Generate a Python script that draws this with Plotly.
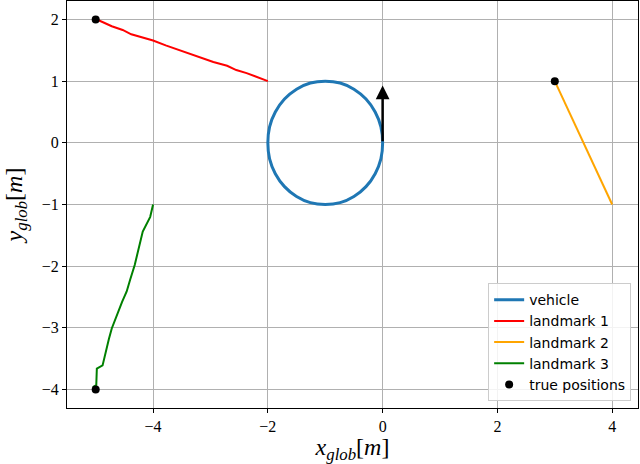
"""Vehicle / landmark trajectories in the global frame."""

import plotly.graph_objects as go

# vehicle path (noisy unit circle around (-1, 0))
vehicle_x = [0.00, -0.03, -0.13, -0.29, -0.50, -0.74, -1.00, -1.26, -1.50, -1.71, -1.87, -1.97,
             -2.00, -1.97, -1.87, -1.71, -1.50, -1.26, -1.00, -0.74, -0.50, -0.29, -0.13, -0.03, 0.00]
vehicle_y = [0.00, 0.26, 0.50, 0.71, 0.87, 0.97, 1.00, 0.97, 0.87, 0.71, 0.50, 0.26,
             0.00, -0.26, -0.50, -0.71, -0.87, -0.97, -1.00, -0.97, -0.87, -0.71, -0.50, -0.26, 0.00]

# landmark estimates
lm1_x = [-5.00, -4.93, -4.72, -4.53, -4.38, -4.24, -4.00, -3.78, -3.53, -3.36, -3.18, -2.95, -2.71, -2.55, -2.37, -2.18, -2.00]
lm1_y = [2.00, 1.98, 1.89, 1.83, 1.76, 1.72, 1.66, 1.58, 1.50, 1.45, 1.39, 1.31, 1.25, 1.18, 1.13, 1.06, 1.00]

lm2_x = [3.00, 3.50, 4.00]
lm2_y = [1.00, 0.00, -1.00]

lm3_x = [-4.00, -4.05, -4.18, -4.25, -4.32, -4.40, -4.46, -4.54, -4.61, -4.68, -4.72, -4.77, -4.81, -4.85,
         -4.88, -4.98, -4.99, -5.05]
lm3_y = [-1.00, -1.20, -1.44, -1.72, -1.98, -2.22, -2.41, -2.58, -2.74, -2.90, -3.01, -3.18, -3.34, -3.50,
         -3.61, -3.66, -3.93, -3.96]

true_x = [-5, 3, -5]
true_y = [2, 1, -4]

heading = dict(x0=0.0, y0=0.0, x1=0.0, y1=0.93)

SERIF = "Liberation Serif"

fig = go.Figure()
fig.add_trace(go.Scatter(x=vehicle_x, y=vehicle_y, mode="lines", name="vehicle",
                         line=dict(color="#1f77b4", width=3, shape="spline")))
fig.add_trace(go.Scatter(x=lm1_x, y=lm1_y, mode="lines", name="landmark 1",
                         line=dict(color="red", width=2)))
fig.add_trace(go.Scatter(x=lm2_x, y=lm2_y, mode="lines", name="landmark 2",
                         line=dict(color="orange", width=2)))
fig.add_trace(go.Scatter(x=lm3_x, y=lm3_y, mode="lines", name="landmark 3",
                         line=dict(color="green", width=2)))
fig.add_trace(go.Scatter(x=true_x, y=true_y, mode="markers", name="true positions",
                         marker=dict(color="black", size=8)))

fig.add_annotation(x=heading["x1"], y=heading["y1"], ax=heading["x0"], ay=heading["y0"],
                   xref="x", yref="y", axref="x", ayref="y", text="",
                   showarrow=True, arrowhead=2, arrowsize=1.1, arrowwidth=2.5, arrowcolor="black")

axis_common = dict(
    showgrid=True, gridcolor="#b0b0b0", gridwidth=1,
    showline=True, linecolor="black", linewidth=1, mirror=True,
    ticks="outside", ticklen=4, tickcolor="black",
    zeroline=False, automargin=False,
    tickfont=dict(family=SERIF, size=16, color="black"),
)

fig.update_layout(
    width=640, height=464,
    plot_bgcolor="white", paper_bgcolor="white",
    margin=dict(l=67, r=2, t=1, b=56),
    xaxis=dict(range=[-5.5, 4.45], tickvals=[-4, -2, 0, 2, 4], **axis_common,
               title=dict(text="<i>x</i><sub><i>glob</i></sub>[<i>m</i>]", standoff=1,
                          font=dict(family=SERIF, size=24, color="black"))),
    yaxis=dict(range=[-4.3, 2.3], tickvals=[-4, -3, -2, -1, 0, 1, 2], **axis_common,
               title=dict(text="<i>y</i><sub><i>glob</i></sub>[<i>m</i>]", standoff=12,
                          font=dict(family=SERIF, size=24, color="black"))),
    legend=dict(x=0.988, y=0.017, xanchor="right", yanchor="bottom",
                bgcolor="rgba(255,255,255,0.85)", bordercolor="#cccccc", borderwidth=1,
                font=dict(family="DejaVu Sans", size=14, color="black")),
    showlegend=True,
)

fig.write_html("out.html", config={"displayModeBar": False},
               post_script="document.body.style.margin='0';")
